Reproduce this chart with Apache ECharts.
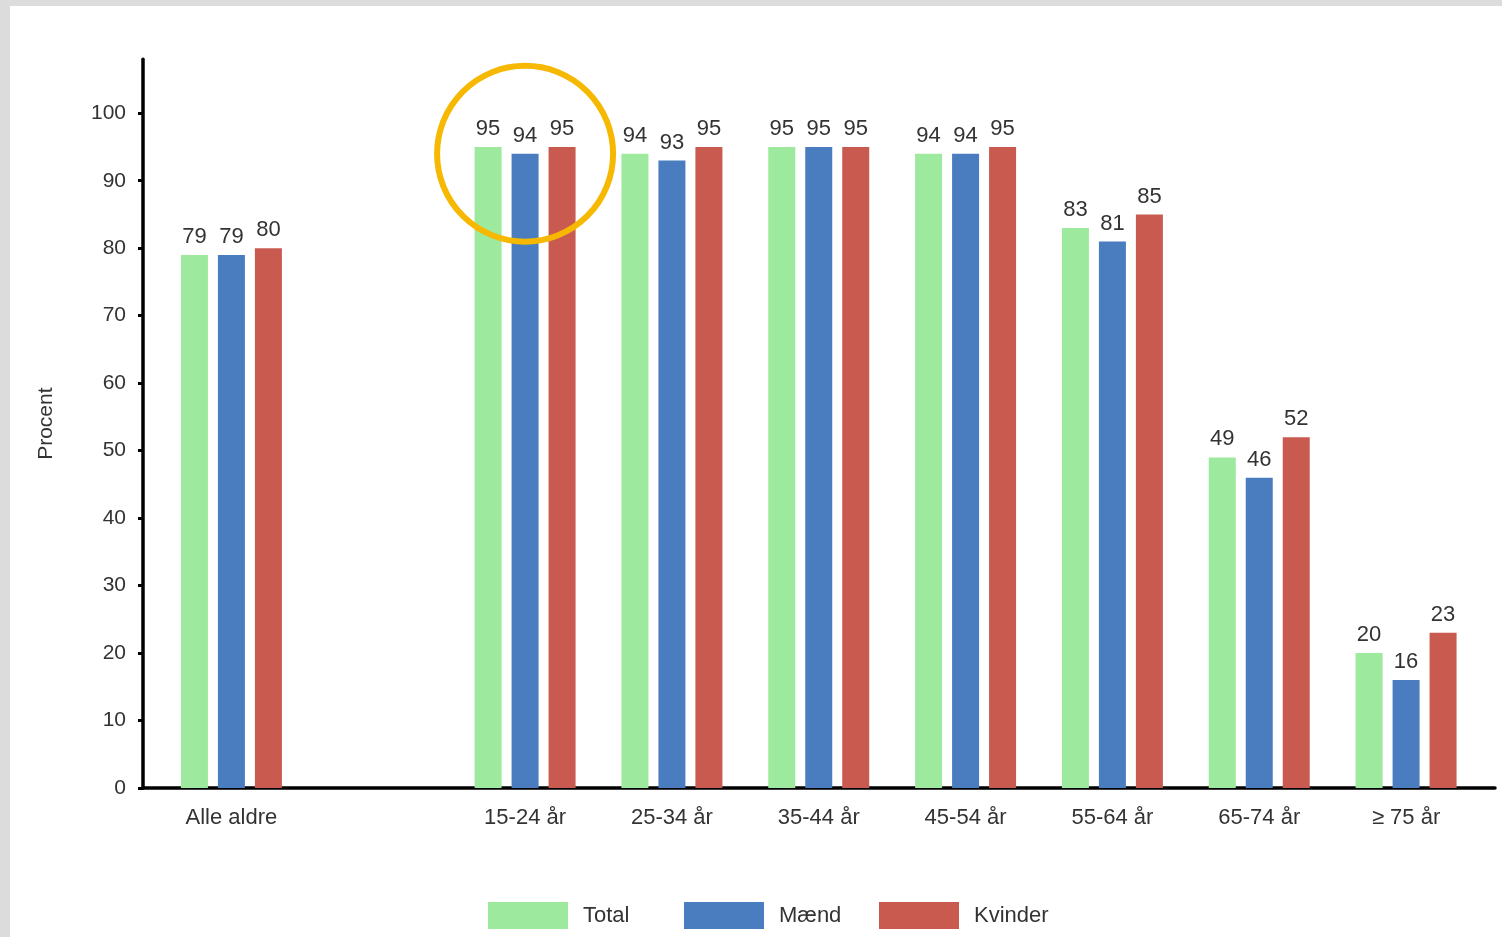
<!DOCTYPE html>
<html><head><meta charset="utf-8">
<script src="https://cdn.jsdelivr.net/npm/echarts@6/dist/echarts.min.js"></script>
<style>
html,body{margin:0;padding:0;background:#dcdcdc;width:1502px;height:937px;overflow:hidden}
#c{position:absolute;left:10px;top:6px;width:1492px;height:931px;background:#fff}
</style></head><body><div id="c"></div>
<script>
const categories = ['Alle aldre', '', '15-24 år', '25-34 år', '35-44 år', '45-54 år', '55-64 år', '65-74 år', '≥ 75 år'];
const totalValues = [79, '-', 95, 94, 95, 94, 83, 49, 20];
const maendValues = [79, '-', 94, 93, 95, 94, 81, 46, 16];
const kvinderValues = [80, '-', 95, 95, 95, 95, 85, 52, 23];
const seriesNames = ['Total', 'Mænd', 'Kvinder'];
const yTicks = [0, 10, 20, 30, 40, 50, 60, 70, 80, 90, 100];
const highlightCategory = '15-24 år';
const highlightValue = 94;

const FONT = 'Liberation Sans, Arial, sans-serif';
const colors = ['#9de99d', '#4a7dbf', '#c95a4f'];
const chart = echarts.init(document.getElementById('c'));

const labelCfg = { show: true, position: 'top', distance: 7, fontSize: 22, color: '#333', fontFamily: FONT };
function mkSeries(name, data, i) {
  return { name, type: 'bar', data, barWidth: 27, barGap: '37%', itemStyle: { color: colors[i] }, label: labelCfg, xAxisIndex: 0, yAxisIndex: 0 };
}

// one legend per series so the items sit on an even pitch, as in the original
const legendLefts = [478, 674, 869];
const legends = seriesNames.map((n, i) => ({
  data: [n], left: legendLefts[i], top: 896, padding: 0,
  icon: 'rect', itemWidth: 80, itemHeight: 27,
  textStyle: { fontSize: 22, color: '#333', fontFamily: FONT, padding: [0, 0, 0, 10] }
}));

chart.setOption({
  backgroundColor: '#fff',
  animation: false,
  color: colors,
  grid: [
    { left: 148, right: 22.5, top: 53.3, bottom: 149 },
    { left: 133, right: 7, top: 53.3, bottom: 149 }
  ],
  legend: legends,
  xAxis: [
    { type: 'category', data: categories, gridIndex: 0,
      axisLine: { show: false }, axisTick: { show: false },
      axisLabel: { fontSize: 22, color: '#333', fontFamily: FONT, margin: 19, interval: 0 } },
    { type: 'category', data: [''], gridIndex: 1,
      axisLine: { show: true, lineStyle: { color: '#000', width: 3.5 } },
      axisTick: { show: false }, axisLabel: { show: false } }
  ],
  yAxis: [
    { type: 'value', gridIndex: 0, min: 0, max: 108, interval: 10, offset: 15,
      name: 'Procent', nameLocation: 'middle', nameGap: 86, nameRotate: 90,
      nameTextStyle: { fontSize: 21, color: '#333', fontFamily: FONT },
      axisLine: { show: true, lineStyle: { color: '#000', width: 3.5 } },
      axisTick: { show: true, length: 5, lineStyle: { color: '#000', width: 3 }, customValues: yTicks },
      axisLabel: { fontSize: 21, color: '#333', fontFamily: FONT, margin: 17, customValues: yTicks },
      splitLine: { show: false } },
    { type: 'value', gridIndex: 1, min: 0, max: 108, show: false, splitLine: { show: false } }
  ],
  series: [
    mkSeries(seriesNames[0], totalValues, 0),
    mkSeries(seriesNames[1], maendValues, 1),
    mkSeries(seriesNames[2], kvinderValues, 2)
  ]
});

const p = chart.convertToPixel({ xAxisIndex: 0, yAxisIndex: 0 }, [highlightCategory, highlightValue]);
chart.setOption({
  graphic: [{
    type: 'circle', shape: { cx: p[0], cy: p[1], r: 88 },
    style: { fill: 'none', stroke: '#f6b800', lineWidth: 6 }, z: 100
  }]
});
</script></body></html>
